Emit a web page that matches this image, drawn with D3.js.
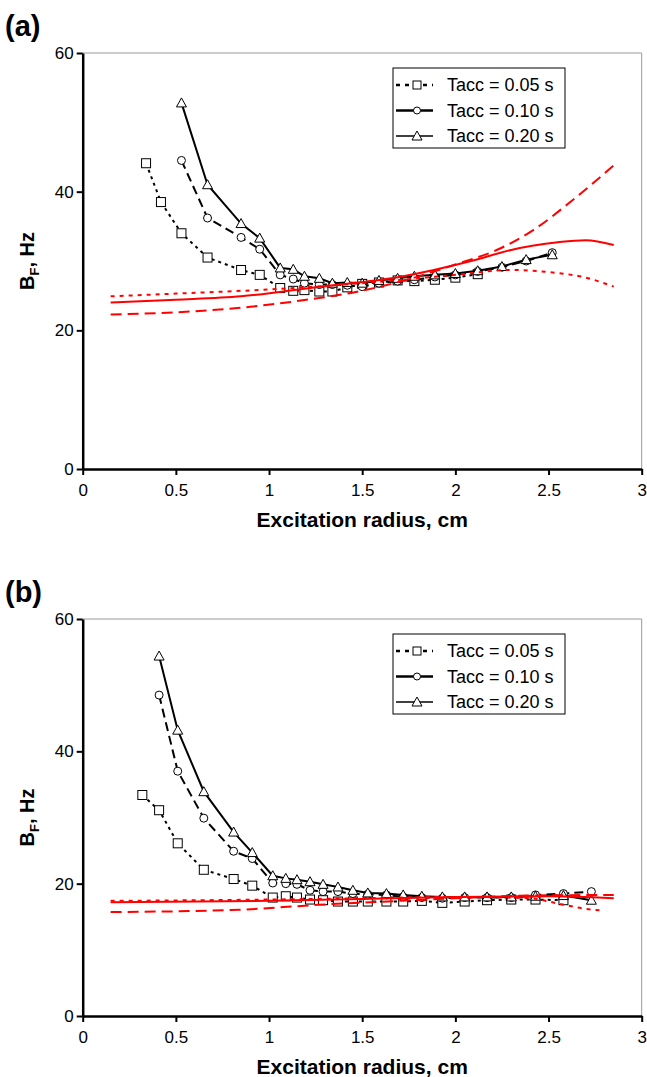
<!DOCTYPE html>
<html>
<head>
<meta charset="utf-8">
<script src="https://cdn.jsdelivr.net/npm/d3@7"></script>
<style>
body { margin: 0; background: #fff; }
text { font-family: "Liberation Sans", Arial, sans-serif; }
</style>
</head>
<body>
<div id="chart"></div>
<script>
// ---- data ----
var xTicks = [0, 0.5, 1, 1.5, 2, 2.5, 3];
var yTicks = [0, 20, 40, 60];
var legendNames = ["Tacc = 0.05 s", "Tacc = 0.10 s", "Tacc = 0.20 s"];

// panel (a)
var aX05 = [0.34,0.42,0.53,0.67,0.85,0.95,1.06,1.13,1.19,1.27,1.34,1.42,1.50,1.59,1.69,1.78,1.89,2.00,2.12];
var aY05 = [44.1,38.5,34.0,30.5,28.7,28.0,26.1,25.7,25.8,25.6,25.6,26.2,26.7,26.9,27.2,27.1,27.3,27.6,28.1];
var aX10 = [0.53,0.67,0.85,0.95,1.06,1.13,1.19,1.27,1.34,1.42,1.50,1.59,1.69,1.78,1.89,2.00,2.12,2.25,2.38,2.52];
var aY10 = [44.5,36.2,33.4,31.7,28.0,27.4,26.8,26.6,26.6,26.5,26.3,26.8,27.1,27.3,27.7,28.0,28.5,29.1,30.0,31.2];
var aX20 = [0.53,0.67,0.85,0.95,1.06,1.13,1.19,1.27,1.34,1.42,1.50,1.59,1.69,1.78,1.89,2.00,2.12,2.25,2.38,2.52];
var aY20 = [52.8,41.0,35.4,33.3,29.0,28.8,27.8,27.5,26.8,26.9,26.8,27.2,27.5,27.8,28.0,28.2,28.6,29.2,30.2,30.9];

var aFitDotX = [0.15,0.5,1.0,1.5,2.0,2.3,2.5,2.7,2.85];
var aFitDotY = [24.9,25.3,25.9,26.8,28.0,28.7,28.4,27.6,26.3];
var aFitSolX = [0.15,0.5,0.85,1.27,1.7,2.1,2.3,2.55,2.7,2.85];
var aFitSolY = [24.0,24.4,24.9,26.3,27.7,30.1,31.6,32.7,33.0,32.3];
var aFitDashX = [0.15,0.5,0.9,1.2,1.44,1.7,2.0,2.24,2.42,2.63,2.85];
var aFitDashY = [22.3,22.6,23.4,24.4,25.4,27.0,29.5,31.8,34.5,38.8,43.8];

// panel (b)
var bX05 = [0.32,0.41,0.51,0.65,0.81,0.91,1.02,1.09,1.15,1.22,1.29,1.37,1.45,1.53,1.63,1.72,1.82,1.93,2.05,2.17,2.30,2.43,2.58];
var bY05 = [33.4,31.1,26.1,22.1,20.7,19.7,17.9,18.1,17.9,17.6,17.5,17.3,17.3,17.3,17.3,17.3,17.4,17.1,17.3,17.5,17.6,17.6,17.5];
var bX10 = [0.41,0.51,0.65,0.81,0.91,1.02,1.09,1.15,1.22,1.29,1.37,1.45,1.53,1.63,1.72,1.82,1.93,2.05,2.17,2.30,2.43,2.58,2.73];
var bY10 = [48.5,37.0,29.9,24.9,23.8,20.1,20.0,19.9,19.0,18.8,18.8,18.5,18.4,18.3,18.0,17.9,17.8,17.9,17.9,17.9,18.3,18.5,18.8];
var bX20 = [0.41,0.51,0.65,0.81,0.91,1.02,1.09,1.15,1.22,1.29,1.37,1.45,1.53,1.63,1.72,1.82,1.93,2.05,2.17,2.30,2.43,2.58,2.73];
var bY20 = [54.4,43.2,33.9,27.8,24.7,21.2,20.8,20.6,20.3,19.9,19.5,19.0,18.6,18.5,18.3,18.1,18.0,18.0,18.0,18.0,18.1,18.2,17.5];

var bFitDotX = [0.15,1.0,1.5,2.0,2.4,2.55,2.7,2.8];
var bFitDotY = [17.4,17.6,17.8,18.0,17.8,17.0,16.2,15.9];
var bFitSolX = [0.15,1.0,1.5,2.0,2.5,2.85];
var bFitSolY = [17.2,17.4,17.7,18.0,18.1,17.8];
var bFitDashX = [0.15,0.87,1.26,1.7,2.0,2.4,2.85];
var bFitDashY = [15.7,16.1,16.8,17.4,17.8,18.2,18.3];

function zip(xs, ys) { return xs.map(function(x, i) { return {x: x, y: ys[i]}; }); }

var svg = d3.select("#chart").append("svg")
    .attr("width", 647)
    .attr("height", 1077);

var x = d3.scaleLinear().domain([0, 3]).range([82.7, 641.7]);

// styles for the three measured series
var styles = [
    {marker: "square", dash: "3,4", width: 2},
    {marker: "circle", dash: "9,5", width: 2},
    {marker: "triangle", dash: null, width: 2}
];

function marker(g, type, cx, cy) {
    if (type == "square") {
        g.append("rect").attr("x", cx - 4.5).attr("y", cy - 4.5)
            .attr("width", 9).attr("height", 9)
            .attr("fill", "#fff").attr("stroke", "#000").attr("stroke-width", 1);
    } else if (type == "circle") {
        g.append("circle").attr("cx", cx).attr("cy", cy).attr("r", 4)
            .attr("fill", "#fff").attr("stroke", "#000").attr("stroke-width", 1);
    } else {
        g.append("path")
            .attr("d", "M" + cx + "," + (cy - 5) + "L" + (cx + 5) + "," + (cy + 4) + "L" + (cx - 5) + "," + (cy + 4) + "Z")
            .attr("fill", "#fff").attr("stroke", "#000").attr("stroke-width", 1);
    }
}

function drawPanel(p) {
    var y = d3.scaleLinear().domain([0, 60]).range([p.bottom, p.top]);
    var g = svg.append("g");

    // top and right frame
    g.append("line").attr("x1", x(0)).attr("x2", x(3)).attr("y1", y(60)).attr("y2", y(60))
        .attr("stroke", "#999").attr("stroke-width", 1);
    g.append("line").attr("x1", x(3)).attr("x2", x(3)).attr("y1", y(60)).attr("y2", y(0))
        .attr("stroke", "#999").attr("stroke-width", 1);

    var xAxis = g.append("g")
        .attr("transform", "translate(0," + y(0) + ")")
        .call(d3.axisBottom(x).tickValues(xTicks).tickFormat(d3.format("")).tickSize(6).tickSizeOuter(0));
    var yAxis = g.append("g")
        .attr("transform", "translate(" + x(0) + ",0)")
        .call(d3.axisLeft(y).tickValues(yTicks).tickSize(6).tickSizeOuter(0));

    [xAxis, yAxis].forEach(function(a) {
        a.select(".domain").attr("stroke", "#000").attr("stroke-width", 2.5);
        a.selectAll(".tick line").attr("stroke", "#000").attr("stroke-width", 2);
        a.selectAll(".tick text").attr("fill", "#000")
            .style("font-size", "17px").style("font-family", "'Liberation Sans', Arial, sans-serif");
    });
    xAxis.selectAll(".tick text").attr("dy", "1.05em");

    var line = d3.line().x(function(d) { return x(d.x); }).y(function(d) { return y(d.y); });

    p.series.forEach(function(s, i) {
        var st = styles[i];
        var pts = zip(s[0], s[1]);
        g.append("path").datum(pts)
            .attr("d", line)
            .attr("fill", "none").attr("stroke", "#000")
            .attr("stroke-width", st.width)
            .attr("stroke-dasharray", st.dash);
        pts.forEach(function(d) { marker(g, st.marker, x(d.x), y(d.y)); });
    });

    var smooth = d3.line().curve(d3.curveMonotoneX)
        .x(function(d) { return x(d.x); }).y(function(d) { return y(d.y); });
    var fitDash = ["4,5", null, "11,6"];
    p.fits.forEach(function(f, i) {
        g.append("path").datum(zip(f[0], f[1]))
            .attr("d", smooth)
            .attr("fill", "none").attr("stroke", "#ff0000")
            .attr("stroke-width", 2)
            .attr("stroke-dasharray", fitDash[i]);
    });

    // legend
    var lg = g.append("g").attr("transform", "translate(" + p.legX + "," + p.legY + ")");
    lg.append("rect").attr("width", 172).attr("height", 80)
        .attr("fill", "#fff").attr("stroke", "#000").attr("stroke-width", 1);
    var legDash = ["4,5", null, null];
    var legWidth = [2.5, 2.5, 1.5];
    legendNames.forEach(function(name, i) {
        var ry = 17 + i * 25.5;
        lg.append("line").attr("x1", 3).attr("x2", 40).attr("y1", ry).attr("y2", ry)
            .attr("stroke", "#000").attr("stroke-width", legWidth[i])
            .attr("stroke-dasharray", legDash[i]);
        var mg = lg.append("g");
        marker(mg, styles[i].marker, 24, ry);
        mg.selectAll("rect").attr("x", 20).attr("y", ry - 4).attr("width", 8).attr("height", 8);
        mg.selectAll("circle").attr("r", 3.5);
        lg.append("text").attr("x", 54).attr("y", ry + 6)
            .style("font-size", "18px").text(name);
    });

    // axis titles
    g.append("text")
        .attr("x", (x(0) + x(3)) / 2).attr("y", y(0) + 58)
        .attr("text-anchor", "middle")
        .style("font-size", "21px").style("font-weight", "bold")
        .text("Excitation radius, cm");

    var yt = g.append("text")
        .attr("transform", "translate(34," + ((y(0) + y(60)) / 2) + ") rotate(-90)")
        .attr("text-anchor", "middle")
        .style("font-size", "20px").style("font-weight", "bold");
    yt.append("tspan").text("B");
    yt.append("tspan").attr("dy", 5).style("font-size", "13px").text("F");
    yt.append("tspan").attr("dy", -5).text(", Hz");

    svg.append("text").attr("x", 5).attr("y", p.top - 17)
        .style("font-size", "29px").style("font-weight", "bold")
        .text(p.label);
}

drawPanel({
    label: "(a)", top: 53, bottom: 469, legX: 393, legY: 68,
    series: [[aX05, aY05], [aX10, aY10], [aX20, aY20]],
    fits: [[aFitDotX, aFitDotY], [aFitSolX, aFitSolY], [aFitDashX, aFitDashY]]
});
drawPanel({
    label: "(b)", top: 619, bottom: 1016, legX: 393, legY: 634,
    series: [[bX05, bY05], [bX10, bY10], [bX20, bY20]],
    fits: [[bFitDotX, bFitDotY], [bFitSolX, bFitSolY], [bFitDashX, bFitDashY]]
});
</script>
</body>
</html>
